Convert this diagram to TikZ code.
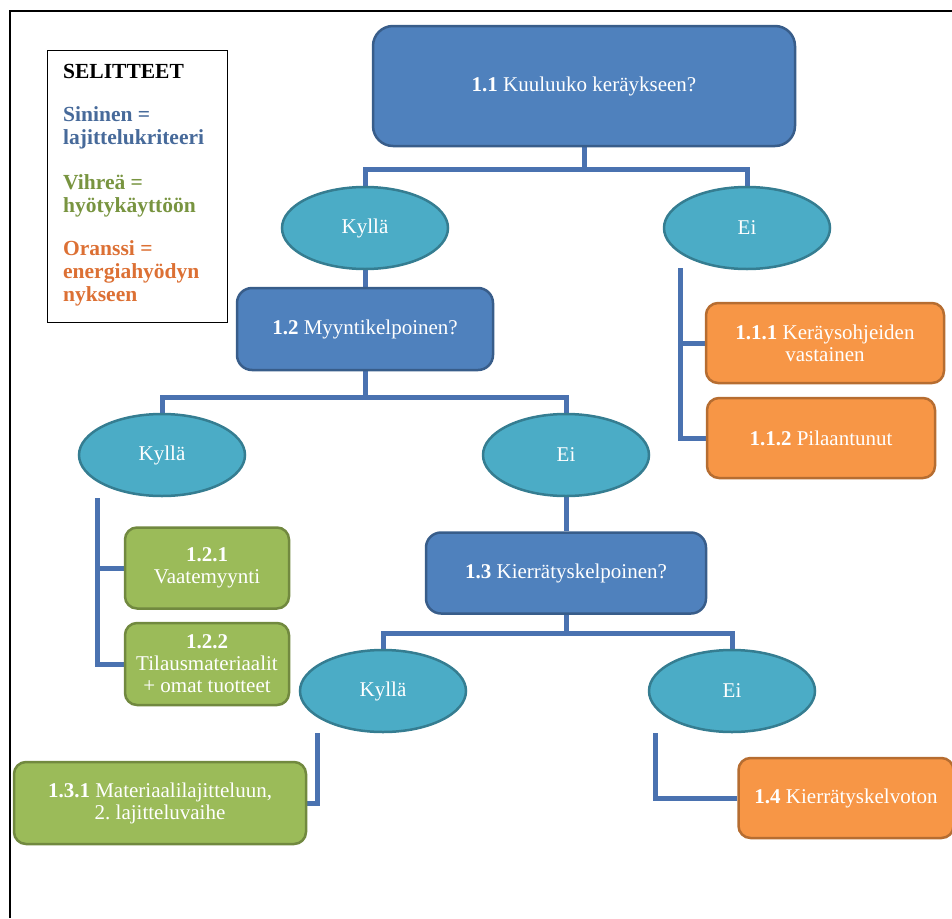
\documentclass[tikz,border=0pt]{standalone}
\usepackage{fontspec}
\setmainfont{Liberation Serif}
\usetikzlibrary{shapes.geometric,backgrounds}
\frenchspacing

\definecolor{critfill}{HTML}{4F81BD}
\definecolor{critline}{HTML}{385D8A}
\definecolor{answfill}{HTML}{4BACC6}
\definecolor{answline}{HTML}{357D91}
\definecolor{usefill}{HTML}{9BBB59}
\definecolor{useline}{HTML}{71893F}
\definecolor{enerfill}{HTML}{F79646}
\definecolor{enerline}{HTML}{B66D31}
\definecolor{connline}{HTML}{4A72B0}
\definecolor{legblue}{HTML}{476A9A}
\definecolor{leggreen}{HTML}{789440}
\definecolor{legorange}{HTML}{DC7034}

\newcommand\boxfont{\fontsize{21}{22}\selectfont}
\newcommand\legendfont{\fontsize{21.5}{23}\selectfont\bfseries}

\tikzset{
  critbox/.style={rectangle, rounded corners=15pt, draw=critline, fill=critfill,
    line width=2.5pt, text=white, inner sep=0pt, align=center, font=\boxfont},
  answbox/.style={ellipse, draw=answline, fill=answfill, line width=2.5pt,
    text=white, minimum width=166pt, minimum height=82pt, inner sep=0pt,
    font=\boxfont},
  usebox/.style={rectangle, rounded corners=12pt, draw=useline, fill=usefill,
    line width=2.5pt, text=white, inner sep=0pt, align=center, font=\boxfont},
  enerbox/.style={rectangle, rounded corners=12pt, draw=enerline, fill=enerfill,
    line width=2.5pt, text=white, inner sep=0pt, align=center, font=\boxfont},
  conn/.style={draw=connline, line width=5pt},
}

\begin{document}
\begin{tikzpicture}[x=1pt,y=-1pt]
\useasboundingbox (0,0) rectangle (952,918);

% page frame
\draw[line width=2pt] (10,918) -- (10,11) -- (952,11);

% legend
\node[draw=black, line width=1pt, minimum width=180pt, minimum height=272pt,
      inner sep=0pt, anchor=north west] (legend) at (47,50) {};
\node[anchor=north west, align=left, inner sep=0pt, font=\legendfont]
  (legendtext) at (63,64) {%
  SELITTEET\\[20pt]
  \textcolor{legblue}{Sininen =}\\
  \textcolor{legblue}{lajittelukriteeri}\\[22pt]
  \textcolor{leggreen}{Vihreä =}\\
  \textcolor{leggreen}{hyötykäyttöön}\\[20pt]
  \textcolor{legorange}{Oranssi =}\\
  \textcolor{legorange}{energiahyödyn}\\
  \textcolor{legorange}{nykseen}};

% level 1
\node[critbox, rounded corners=20pt, minimum width=422pt, minimum height=120pt]
  (b11) at (584,86) {\textbf{1.1} Kuuluuko keräykseen?};
\node[answbox] (e1y) at (365,228) {Kyllä};
\node[answbox] (e1n) at (747,228) {Ei};
\node[enerbox, minimum width=238pt, minimum height=80pt]
  (b111) at (825,343) {\textbf{1.1.1} Keräysohjeiden\\vastainen};
\node[enerbox, minimum width=228pt, minimum height=80pt]
  (b112) at (821,438) {\textbf{1.1.2} Pilaantunut};

% level 2
\node[critbox, minimum width=256pt, minimum height=82pt]
  (b12) at (365,329) {\textbf{1.2} Myyntikelpoinen?};
\node[answbox] (e2y) at (162,455) {Kyllä};
\node[answbox] (e2n) at (566,455) {Ei};
\node[usebox, minimum width=164pt, minimum height=81pt]
  (b121) at (207,568) {\textbf{1.2.1}\\Vaatemyynti};
\node[usebox, minimum width=164pt, minimum height=82pt]
  (b122) at (207,664) {\textbf{1.2.2}\\Tilausmateriaalit\\+ omat tuotteet};

% level 3
\node[critbox, minimum width=280pt, minimum height=81pt]
  (b13) at (566,573) {\textbf{1.3} Kierrätyskelpoinen?};
\node[answbox] (e3y) at (383,691) {Kyllä};
\node[answbox] (e3n) at (732,691) {Ei};
\node[usebox, minimum width=292pt, minimum height=82pt]
  (b131) at (160,803) {\textbf{1.3.1} Materiaalilajitteluun,\\2. lajitteluvaihe};
\node[enerbox, minimum width=215pt, minimum height=80pt]
  (b14) at (846,798) {\textbf{1.4} Kierrätyskelvoton};

% connectors
\coordinate (k1) at (680,268);
\coordinate (k2) at (97,498);
\coordinate (k3) at (317,733);
\coordinate (k4) at (655,733);
\begin{scope}[on background layer]
  \draw[conn] (b11.south) -- ++(0,22) coordinate (j1);
  \draw[conn] (e1y.north) |- (j1) -| (e1n.north);
  \draw[conn] (e1y.south) -- (b12.north);
  \draw[conn] (b12.south) -- ++(0,26) coordinate (j2);
  \draw[conn] (e2y.north) |- (j2) -| (e2n.north);
  \draw[conn] (e2n.south) -- (b13.north);
  \draw[conn] (b13.south) -- ++(0,19) coordinate (j3);
  \draw[conn] (e3y.north) |- (j3) -| (e3n.north);
  \draw[conn] (k1) |- (b111.west);
  \draw[conn] (k1) |- (b112.west);
  \draw[conn] (k2) |- (b121.west);
  \draw[conn] (k2) |- (b122.west);
  \draw[conn] (k3) |- (b131.east);
  \draw[conn] (k4) |- (b14.west);
\end{scope}
\end{tikzpicture}
\end{document}
